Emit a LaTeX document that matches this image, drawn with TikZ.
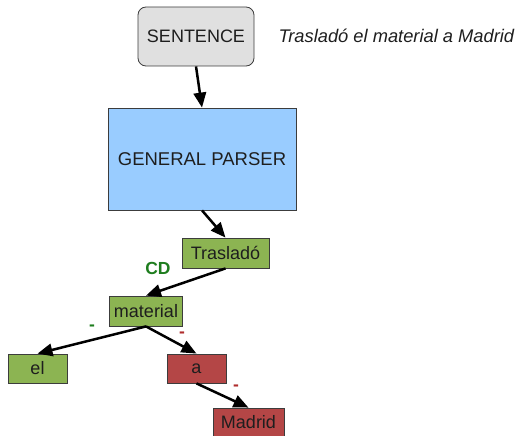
\documentclass[tikz,border=0pt]{standalone}
\usepackage{fontspec}
\setmainfont{Liberation Sans}
\usetikzlibrary{arrows.meta}
\definecolor{boxline}{RGB}{60,60,60}
\definecolor{sentfill}{RGB}{224,224,224}
\definecolor{parsefill}{RGB}{153,204,255}
\definecolor{wordgreen}{RGB}{140,180,82}
\definecolor{wordred}{RGB}{180,70,70}
\definecolor{labgreen}{RGB}{30,125,30}
\definecolor{labred}{RGB}{175,45,45}
\definecolor{txt}{RGB}{30,30,30}
\tikzset{
  box/.style={draw=boxline, line width=0.8pt, inner sep=0pt, text=txt,
              font=\fontsize{18}{21}\selectfont},
  wordbox/.style={box, fill=wordgreen},
  redbox/.style={box, fill=wordred},
  link/.style={line width=2.5pt, -{Triangle[length=15pt,width=12.5pt]}},
  rel/.style={font=\bfseries\fontsize{17.5}{20}\selectfont},
}
\begin{document}
\begin{tikzpicture}[x=1pt,y=-1pt]
\useasboundingbox (0,0) rectangle (517,436);
% input sentence and parser
\node[box, fill=sentfill, rounded corners=8pt, minimum width=116pt, minimum height=59pt]
  (sent) at (196,36.5) {SENTENCE};
\node[anchor=west, text=txt, font=\itshape\fontsize{18.3}{21}\selectfont]
  (example) at (275,36) {Trasladó el material a Madrid};
\node[box, fill=parsefill, minimum width=188pt, minimum height=102pt]
  (parser) at (202,159) {\fontsize{18.5}{21}\selectfont GENERAL PARSER};
% dependency tree
\node[wordbox, minimum width=87pt, minimum height=30pt] (tras) at (225.5,253) {Trasladó};
\node[wordbox, minimum width=73pt, minimum height=30pt] (mat) at (146,311) {material};
\node[wordbox, minimum width=59pt, minimum height=29pt] (el) at (37.5,368.5) {el};
\node[redbox, minimum width=59pt, minimum height=29pt] (a) at (196.5,368.5) {a};
\node[redbox, minimum width=71pt, minimum height=28pt] (mad) at (248.5,422) {Madrid};
% connectors
\draw[link] (sent.south) -- (parser.north);
\draw[link] (parser.south) -- (tras.north);
\draw[link] (tras.south) -- (mat.north);
\draw[link] (mat.south) -- (el.north);
\draw[link] (mat.south) -- (a.north);
\draw[link] (a.south) -- (mad.north);
% relation labels
\node[rel, text=labgreen] (lcd) at (158,268) {CD};
\node[rel, text=labgreen] (lel) at (92,328) {-};
\node[rel, text=labred] (la) at (182,335) {-};
\node[rel, text=labred] (lmad) at (236,388) {-};
\end{tikzpicture}
\end{document}
